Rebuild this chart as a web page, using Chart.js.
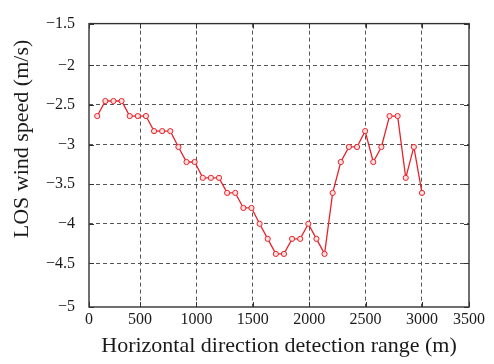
<!DOCTYPE html>
<html>
<head>
<meta charset="utf-8">
<script src="https://cdn.jsdelivr.net/npm/chart.js@4.4.1/dist/chart.umd.min.js"></script>
<style>
  html, body { margin: 0; padding: 0; background: #fff; }
  canvas { display: block; }
</style>
</head>
<body>
<canvas id="chart" width="494" height="364"></canvas>
<script>
// range gates (m) and LOS wind speed (m/s)
const ranges = [120, 192, 264, 336, 408, 480, 552, 624, 696, 768, 840, 912, 984, 1056, 1128, 1200,
  1272, 1344, 1416, 1488, 1560, 1632, 1704, 1776, 1848, 1920, 1992, 2064, 2136, 2208, 2280, 2352,
  2424, 2496, 2568, 2640, 2712, 2784, 2856, 2928, 3000];
const losSpeed = [-2.64, -2.45, -2.45, -2.45, -2.64, -2.64, -2.64, -2.83, -2.83, -2.83, -3.03, -3.22,
  -3.22, -3.42, -3.42, -3.42, -3.61, -3.61, -3.80, -3.80, -4.00, -4.19, -4.38, -4.38, -4.19, -4.19,
  -4.00, -4.19, -4.38, -3.61, -3.22, -3.03, -3.03, -2.83, -3.22, -3.03, -2.64, -2.64, -3.42, -3.03, -3.61];

const xTickValues = [500, 1000, 1500, 2000, 2500, 3000];
const xTickLabels = ['0', '500', '1000', '1500', '2000', '2500', '3000', '3500'];
const yTickValues = [-4.5, -4, -3.5, -3, -2.5, -2];
const yTickLabels = ['\u22125', '\u22124.5', '\u22124', '\u22123.5', '\u22123', '\u22122.5', '\u22122', '\u22121.5'];

const xTitle = 'Horizontal direction detection range (m)';
const yTitle = 'LOS wind speed (m/s)';

// the frame of the original figure is a little narrower than its end labels
const X_MIN = 47, X_MAX = 3417;
const Y_MIN = -5.05, Y_MAX = -1.473;

const FONT = "'Liberation Serif', 'Times New Roman', serif";
const TEXT = '#1a1a1a';
const FRAME = '#333';

const edgeClear = ctx =>
  (ctx.index === 0 || ctx.index === ctx.scale.ticks.length - 1) ? 'rgba(0,0,0,0)' : '#555';

// box round the plot with short inward ticks on all four sides
const framePlugin = {
  id: 'frame',
  afterDraw(chart) {
    const { ctx, chartArea: a, scales: { x, y } } = chart;
    ctx.save();
    ctx.strokeStyle = FRAME;
    ctx.lineWidth = 1;
    ctx.beginPath();
    x.ticks.forEach(t => {
      const px = Math.round(x.getPixelForValue(t.value)) + 0.5;
      ctx.moveTo(px, a.bottom); ctx.lineTo(px, a.bottom - 5);
      ctx.moveTo(px, a.top); ctx.lineTo(px, a.top + 5);
    });
    y.ticks.forEach(t => {
      const py = Math.round(y.getPixelForValue(t.value)) + 0.5;
      ctx.moveTo(a.left, py); ctx.lineTo(a.left + 5, py);
      ctx.moveTo(a.right, py); ctx.lineTo(a.right - 5, py);
    });
    ctx.stroke();
    ctx.lineWidth = 1.4;
    ctx.strokeRect(a.left, a.top, a.right - a.left, a.bottom - a.top);
    ctx.restore();
  }
};

// y title sits a bit above the middle of the axis in the original
const yTitlePlugin = {
  id: 'yTitle',
  afterDraw(chart) {
    const { ctx } = chart;
    ctx.save();
    ctx.translate(22, 139);
    ctx.rotate(-Math.PI / 2);
    ctx.font = '22px ' + FONT;
    ctx.fillStyle = TEXT;
    ctx.textAlign = 'center';
    ctx.textBaseline = 'middle';
    ctx.fillText(yTitle, 0, 0);
    ctx.restore();
  }
};

new Chart(document.getElementById('chart'), {
  type: 'line',
  data: {
    datasets: [{
      data: ranges.map((r, i) => ({ x: r, y: losSpeed[i] })),
      borderColor: '#e8232b',
      borderWidth: 1.3,
      pointRadius: 2.6,
      pointBorderWidth: 1,
      pointBorderColor: '#e8232b',
      pointBackgroundColor: '#fbe0e0',
      tension: 0,
    }],
  },
  options: {
    responsive: false,
    animation: false,
    layout: { padding: { top: 9, right: 25, left: 0, bottom: 0 } },
    plugins: { legend: { display: false }, tooltip: { enabled: false } },
    scales: {
      x: {
        type: 'linear',
        min: X_MIN, max: X_MAX,
        afterBuildTicks: s => { s.ticks = [X_MIN, ...xTickValues, X_MAX].map(v => ({ value: v })); },
        afterFit: s => { s.height = 57; },
        ticks: {
          callback: (v, i) => xTickLabels[i],
          autoSkip: false, maxRotation: 0, padding: 3,
          color: TEXT, font: { family: FONT, size: 16 },
        },
        grid: { color: edgeClear, lineWidth: 1, drawTicks: false },
        border: { display: false, dash: [4, 3] },
        title: {
          display: true, text: xTitle, color: TEXT,
          font: { family: FONT, size: 22 }, padding: { top: 0, bottom: 5 },
        },
      },
      y: {
        type: 'linear',
        min: Y_MIN, max: Y_MAX,
        afterBuildTicks: s => { s.ticks = [Y_MIN, ...yTickValues, Y_MAX].map(v => ({ value: v })); },
        afterFit: s => { s.width = 89; },
        ticks: {
          callback: (v, i) => yTickLabels[i],
          autoSkip: false, padding: 14,
          color: TEXT, font: { family: FONT, size: 16 },
        },
        grid: { color: edgeClear, lineWidth: 1, drawTicks: false },
        border: { display: false, dash: [4, 3] },
      },
    },
  },
  plugins: [framePlugin, yTitlePlugin],
});
</script>
</body>
</html>
